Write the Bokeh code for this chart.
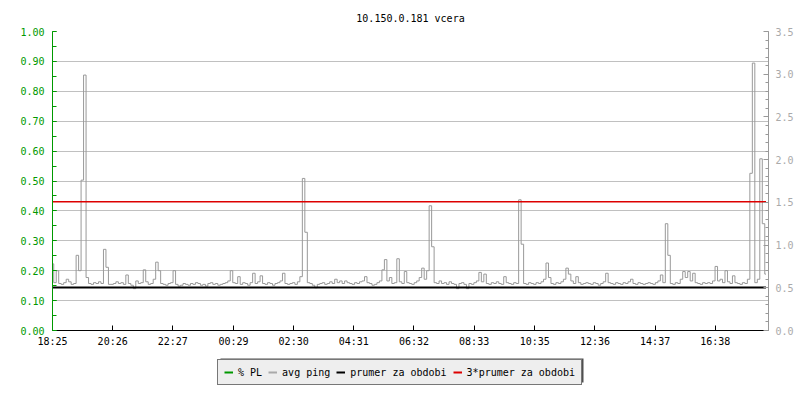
from bokeh.plotting import figure
from bokeh.layouts import column
from bokeh.models import (Range1d, LinearAxis, FixedTicker, SingleIntervalTicker, Legend, LegendItem,
                          ColumnDataSource, PrintfTickFormatter, BoxAnnotation, Grid)
from bokeh.embed import file_html
from bokeh.resources import INLINE

# ---------------- data ----------------
title_text = "10.150.0.181 vcera"
time_labels = ["18:25", "20:26", "22:27", "00:29", "02:30", "04:31",
               "06:32", "08:33", "10:35", "12:36", "14:37", "16:38"]
sample_step_min = 5
legend_labels = ["% PL", "avg ping", "prumer za obdobi", "3*prumer za obdobi"]

# avg ping [ms], one value per 5 minutes (right axis)
ping_values = [
    0.78, 0.56, 0.70, 0.55, 0.54, 0.56, 0.60, 0.57, 0.54, 0.55, 0.88, 0.70,
    1.76, 2.99, 0.62, 0.55, 0.54, 0.56, 0.55, 0.57, 0.55, 0.95, 0.74, 0.54,
    0.54, 0.55, 0.57, 0.55, 0.56, 0.54, 0.65, 0.55, 0.53, 0.49, 0.58, 0.55,
    0.56, 0.71, 0.57, 0.54, 0.55, 0.60, 0.80, 0.70, 0.55, 0.54, 0.53, 0.55,
    0.56, 0.70, 0.54, 0.52, 0.53, 0.55, 0.54, 0.53, 0.55, 0.54, 0.56, 0.55,
    0.53, 0.54, 0.52, 0.55, 0.56, 0.54, 0.55, 0.53, 0.54, 0.55, 0.56, 0.58,
    0.70, 0.56, 0.55, 0.63, 0.54, 0.56, 0.55, 0.53, 0.56, 0.67, 0.55, 0.57,
    0.64, 0.55, 0.54, 0.56, 0.55, 0.53, 0.55, 0.56, 0.58, 0.67, 0.55, 0.54,
    0.55, 0.56, 0.54, 0.57, 0.63, 1.78, 1.15, 0.56, 0.55, 0.53, 0.50, 0.54,
    0.55, 0.56, 0.54, 0.55, 0.57, 0.55, 0.60, 0.56, 0.58, 0.55, 0.58, 0.56,
    0.55, 0.54, 0.56, 0.55, 0.57, 0.58, 0.63, 0.56, 0.55, 0.53, 0.54, 0.56,
    0.58, 0.71, 0.83, 0.58, 0.62, 0.55, 0.56, 0.84, 0.57, 0.55, 0.69, 0.56,
    0.55, 0.54, 0.56, 0.58, 0.62, 0.73, 0.60, 0.70, 1.46, 0.98, 0.56, 0.55,
    0.58, 0.55, 0.56, 0.54, 0.57, 0.55, 0.54, 0.49, 0.55, 0.56, 0.54, 0.49,
    0.55, 0.54, 0.56, 0.58, 0.68, 0.57, 0.66, 0.55, 0.54, 0.56, 0.55, 0.57,
    0.55, 0.54, 0.63, 0.56, 0.55, 0.54, 0.56, 0.55, 1.53, 1.01, 0.55, 0.54,
    0.56, 0.55, 0.54, 0.56, 0.55, 0.57, 0.60, 0.79, 0.62, 0.55, 0.54, 0.56,
    0.55, 0.57, 0.60, 0.73, 0.66, 0.58, 0.55, 0.63, 0.56, 0.54, 0.55, 0.56,
    0.55, 0.54, 0.56, 0.55, 0.53, 0.55, 0.57, 0.67, 0.56, 0.55, 0.54, 0.56,
    0.55, 0.54, 0.56, 0.55, 0.57, 0.60, 0.55, 0.54, 0.56, 0.55, 0.54, 0.55,
    0.56, 0.55, 0.54, 0.56, 0.58, 0.65, 0.56, 1.25, 0.88, 0.55, 0.54, 0.56,
    0.55, 0.60, 0.69, 0.62, 0.69, 0.58, 0.67, 0.56, 0.55, 0.54, 0.56, 0.55,
    0.56, 0.55, 0.58, 0.75, 0.58, 0.60, 0.56, 0.70, 0.57, 0.55, 0.64, 0.56,
    0.55, 0.54, 0.56, 0.55, 0.60, 1.84, 3.13, 0.56, 0.60, 2.01, 1.25, 0.66,
]
# packet loss [%] (left axis) - no loss over the whole period
pl_values = [0.0] * len(ping_values)
mean_ping = 0.502          # "prumer za obdobi"
mean_factor = 3            # "3*prumer za obdobi"

# ---------------- derived ----------------
def to_min(lbl):
    h, m = map(int, lbl.split(":"))
    return h * 60 + m

start_min = to_min(time_labels[0])
tick_pos = [(to_min(l) - start_min) % 1440 for l in time_labels]
x_vals = [i * sample_step_min for i in range(len(ping_values))]

FONT = "DejaVu Sans Mono"
GREEN = "#009900"
GREY = "#999999"
RED = "#dd0000"
W = 796

p = figure(width=W, height=350, output_backend="svg", toolbar_location=None,
           x_range=Range1d(0, 1440), y_range=Range1d(0, 1.0),
           min_border_left=52, min_border_right=W - 770, min_border_top=31, min_border_bottom=20,
           title=title_text)
p.extra_y_ranges = {"ping": Range1d(0, 3.5)}
p.outline_line_color = None
p.background_fill_color = "white"

p.title.align = "center"
p.title.vertical_align = "top"
p.title.text_font = FONT
p.title.text_font_size = "10px"
p.title.text_font_style = "normal"
p.title.text_color = "black"
p.title.offset = 0
p.title.standoff = 12

# x axis
xa = p.xaxis[0]
xa.ticker = FixedTicker(ticks=tick_pos)
xa.major_label_overrides = {t: l for t, l in zip(tick_pos, time_labels)}
xa.axis_line_color = "black"
xa.major_tick_line_color = "black"
xa.major_tick_in = 5
xa.major_tick_out = 0
xa.minor_tick_line_color = None
xa.major_label_text_font = FONT
xa.major_label_text_font_size = "10px"
xa.major_label_text_color = "black"
xa.major_label_standoff = 5

# left axis
ya = p.yaxis[0]
ya.ticker = SingleIntervalTicker(interval=0.1, num_minor_ticks=2)
ya.formatter = PrintfTickFormatter(format="%.2f")
ya.axis_line_color = GREEN
ya.major_tick_line_color = GREEN
ya.minor_tick_line_color = GREEN
ya.major_tick_in = 4
ya.major_tick_out = 0
ya.minor_tick_in = 4
ya.minor_tick_out = 0
ya.major_label_text_font = FONT
ya.major_label_text_font_size = "10px"
ya.major_label_text_color = GREEN
ya.major_label_standoff = 8

# right axis
ra = LinearAxis(y_range_name="ping",
                ticker=SingleIntervalTicker(interval=0.5, num_minor_ticks=5),
                formatter=PrintfTickFormatter(format="%.1f"))
ra.axis_line_color = GREY
ra.major_tick_line_color = GREY
ra.minor_tick_line_color = GREY
ra.major_tick_in = 5
ra.major_tick_out = 0
ra.minor_tick_in = 3
ra.minor_tick_out = 0
ra.major_label_text_font = FONT
ra.major_label_text_font_size = "10px"
ra.major_label_text_color = "#aaaaaa"
ra.major_label_standoff = 7
p.add_layout(ra, "right")

p.xgrid.visible = False
p.ygrid.grid_line_color = "#c0c0c0"
p.ygrid.grid_line_width = 1

src = ColumnDataSource(dict(x=x_vals, ping=ping_values, pl=pl_values))

r_pl = p.line("x", "pl", source=src, color=GREEN, line_width=1)
r_ping = p.step("x", "ping", source=src, mode="center", y_range_name="ping",
                color=GREY, line_width=1)
x_ends = [x_vals[0], x_vals[-1]]
r_mean = p.line(x_ends, [mean_ping, mean_ping], y_range_name="ping",
                color="black", line_width=2)
r_mean3 = p.line(x_ends, [mean_factor * mean_ping] * 2, y_range_name="ping",
                 color=RED, line_width=1.5)

# ---------------- legend strip ----------------
LH = 46
pl2 = figure(width=W, height=LH, output_backend="svg", toolbar_location=None,
             x_range=Range1d(0, 1), y_range=Range1d(0, 1),
             x_axis_location=None, y_axis_location=None,
             min_border=0, min_border_left=0, min_border_right=0,
             min_border_top=0, min_border_bottom=0)
pl2.outline_line_color = None
for r in pl2.center:
    if isinstance(r, Grid):
        r.visible = False

nan = float("nan")
key_renderers = [pl2.line(x=[nan], y=[nan], color=c, line_width=2)
                 for c in [GREEN, "#aaaaaa", "black", RED]]

# frame of this strip starts at x=52 (aligned with the chart frame above)
shadow = BoxAnnotation(left=168, right=531, top=14, bottom=38,
                       left_units="screen", right_units="screen",
                       top_units="screen", bottom_units="screen",
                       fill_color="#505050", fill_alpha=1, line_color=None)
pl2.add_layout(shadow)

legend = Legend(items=[LegendItem(label=l, renderers=[r])
                       for l, r in zip(legend_labels, key_renderers)],
                orientation="horizontal", location=(165, 11))
legend.label_text_font = FONT
legend.label_text_font_size = "10px"
legend.label_text_color = "black"
legend.label_height = 12
legend.glyph_height = 12
legend.glyph_width = 9
legend.label_standoff = 5
legend.spacing = 6
legend.padding = 6
legend.margin = 0
legend.border_line_color = "black"
legend.border_line_width = 1
legend.background_fill_color = "#eeeeee"
legend.background_fill_alpha = 1
pl2.add_layout(legend)

layout = column(p, pl2, spacing=0)
open("out.html", "w").write(file_html(layout, INLINE))
